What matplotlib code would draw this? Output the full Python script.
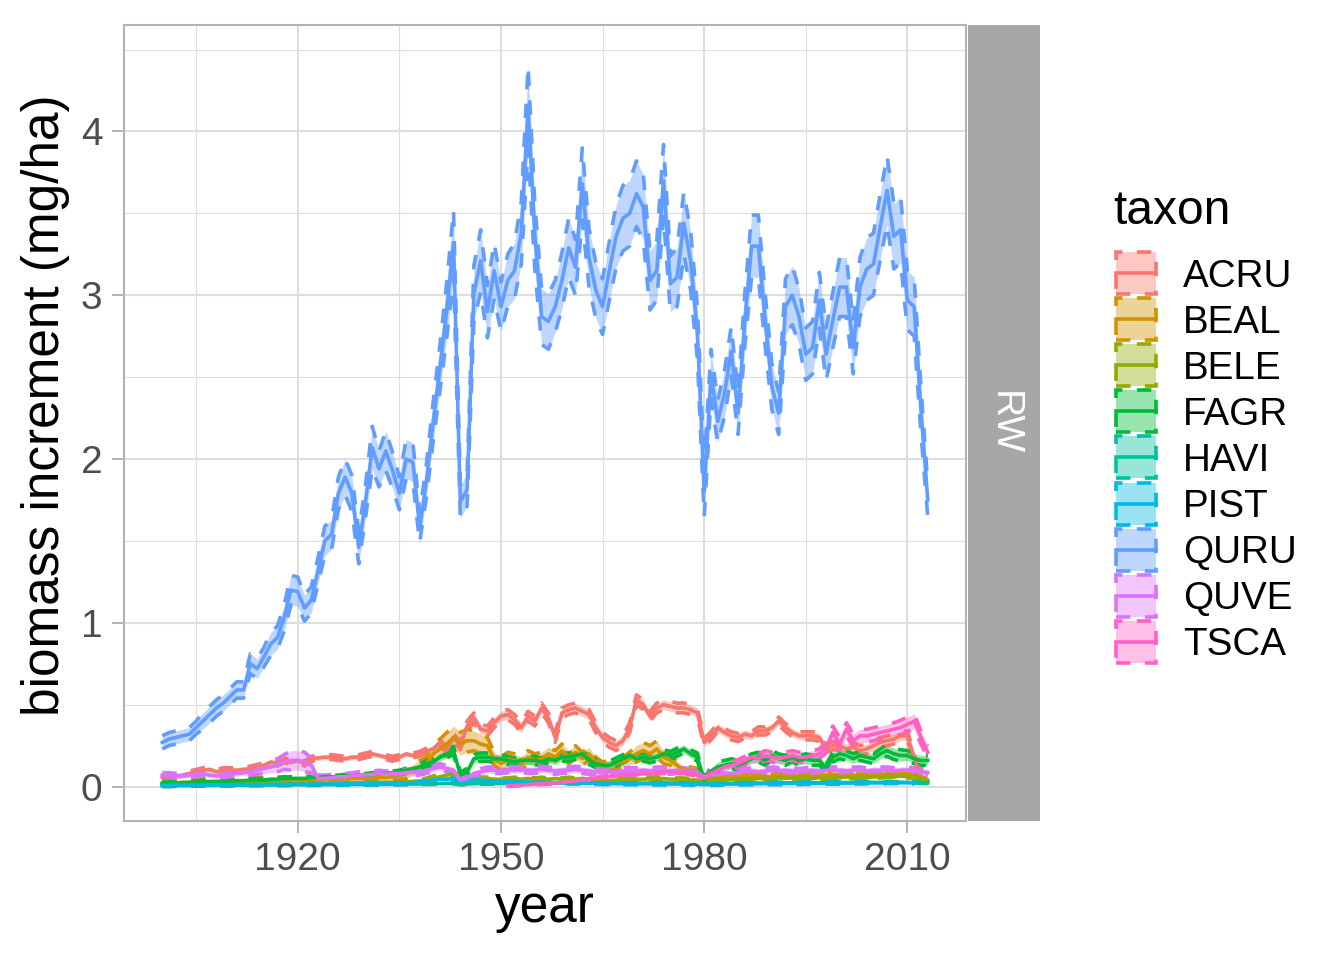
import matplotlib
matplotlib.use("Agg")
import matplotlib.pyplot as plt
from matplotlib.patches import Rectangle
from matplotlib.lines import Line2D
from matplotlib.ticker import FixedLocator
import numpy as np

plt.rcParams['font.family'] = ['Liberation Sans', 'DejaVu Sans']

nan = float('nan')
years = list(range(1900, 2014))
taxa = ["ACRU", "BEAL", "BELE", "FAGR", "HAVI", "PIST", "QURU", "QUVE", "TSCA"]
colors = ["#F8766D", "#D39200", "#93AA00", "#00BA38", "#00C19F",
          "#00B9E3", "#619CFF", "#DB72FB", "#FF61C3"]

ACRU = [0.057,0.060,0.065,0.070,0.080,0.090,0.100,0.105,0.090,0.100,
        0.100,0.100,0.105,0.110,0.120,0.130,0.150,0.140,0.160,0.150,
        0.160,0.140,0.170,0.175,0.180,0.180,0.175,0.170,0.180,0.180,
        0.190,0.200,0.190,0.180,0.170,0.180,0.200,0.190,0.200,0.220,
        0.230,0.270,0.220,0.300,0.250,0.370,0.420,0.350,0.340,0.390,
        0.430,0.440,0.410,0.360,0.430,0.400,0.480,0.420,0.300,0.450,
        0.470,0.480,0.460,0.440,0.360,0.300,0.270,0.250,0.280,0.360,
        0.530,0.500,0.430,0.480,0.500,0.490,0.480,0.480,0.470,0.450,
        0.270,0.310,0.360,0.330,0.310,0.300,0.320,0.310,0.340,0.340,
        0.360,0.400,0.360,0.330,0.310,0.310,0.310,0.300,0.230,0.250,
        0.250,0.230,0.240,0.220,0.230,0.250,0.270,0.280,0.290,0.310,
        0.310,0.180,0.060,0.030]
ACRU_hw = [0.015,0.015,0.015,0.015,0.015,0.015,0.015,0.015,0.015,0.015,
           0.015,0.015,0.015,0.015,0.015,0.015,0.015,0.015,0.015,0.015,
           0.015,0.015,0.015,0.015,0.015,0.015,0.015,0.015,0.015,0.015,
           0.015,0.015,0.015,0.015,0.015,0.015,0.015,0.015,0.015,0.015,
           0.020,0.020,0.020,0.025,0.025,0.030,0.030,0.030,0.030,0.030,
           0.030,0.030,0.030,0.030,0.030,0.030,0.030,0.030,0.030,0.030,
           0.030,0.030,0.030,0.030,0.030,0.030,0.030,0.030,0.030,0.030,
           0.030,0.030,0.030,0.030,0.030,0.030,0.030,0.030,0.030,0.030,
           0.025,0.025,0.025,0.025,0.025,0.025,0.025,0.025,0.025,0.025,
           0.025,0.025,0.025,0.025,0.025,0.025,0.025,0.025,0.025,0.025,
           0.030,0.030,0.030,0.030,0.030,0.030,0.030,0.030,0.030,0.030,
           0.030,0.020,0.015,0.010]

BEAL = [0.020,0.020,0.022,0.022,0.025,0.025,0.027,0.027,0.030,0.030,
        0.030,0.032,0.032,0.035,0.035,0.035,0.038,0.038,0.040,0.040,
        0.040,0.040,0.042,0.042,0.045,0.045,0.045,0.048,0.048,0.050,
        0.050,0.052,0.055,0.055,0.060,0.065,0.080,0.100,0.120,0.140,
        0.200,0.230,0.260,0.300,0.260,0.280,0.280,0.260,0.250,0.170,
        0.140,0.170,0.160,0.140,0.180,0.160,0.170,0.200,0.180,0.220,
        0.180,0.210,0.170,0.200,0.150,0.120,0.130,0.140,0.150,0.170,
        0.200,0.220,0.200,0.230,0.180,0.160,0.130,0.100,0.100,0.090,
        0.050,0.060,0.070,0.065,0.070,0.060,0.070,0.065,0.070,0.060,
        0.060,0.070,0.065,0.060,0.070,0.065,0.060,0.065,0.070,0.060,
        0.060,0.065,0.070,0.060,0.065,0.070,0.075,0.070,0.075,0.080,
        0.080,0.070,0.050,0.030]
BEAL_hw = [0.020,0.020,0.020,0.020,0.020,0.020,0.020,0.020,0.020,0.020,
           0.020,0.020,0.020,0.020,0.020,0.020,0.020,0.020,0.020,0.020,
           0.020,0.020,0.020,0.020,0.020,0.020,0.020,0.020,0.020,0.020,
           0.020,0.020,0.020,0.020,0.020,0.020,0.030,0.035,0.040,0.040,
           0.050,0.060,0.070,0.070,0.070,0.070,0.060,0.060,0.050,0.040,
           0.040,0.040,0.040,0.040,0.040,0.040,0.040,0.040,0.040,0.040,
           0.040,0.040,0.040,0.040,0.030,0.030,0.030,0.030,0.030,0.040,
           0.050,0.050,0.050,0.050,0.040,0.030,0.025,0.020,0.020,0.020,
           0.015,0.015,0.015,0.015,0.015,0.015,0.015,0.015,0.015,0.015,
           0.015,0.015,0.015,0.015,0.015,0.015,0.015,0.015,0.015,0.015,
           0.015,0.015,0.015,0.015,0.015,0.015,0.015,0.015,0.015,0.015,
           0.015,0.015,0.015,0.015]

BELE = [0.010,0.010,0.010,0.012,0.012,0.012,0.013,0.013,0.014,0.014,
        0.015,0.015,0.015,0.016,0.016,0.017,0.017,0.018,0.018,0.019,
        0.019,0.020,0.020,0.020,0.021,0.021,0.022,0.022,0.023,0.023,
        0.024,0.025,0.025,0.026,0.027,0.028,0.030,0.032,0.035,0.040,
        0.050,0.060,0.070,0.080,0.030,0.035,0.045,0.050,0.050,0.045,
        0.045,0.045,0.050,0.045,0.050,0.045,0.050,0.045,0.050,0.045,
        0.050,0.045,0.050,0.045,0.040,0.035,0.035,0.040,0.040,0.045,
        0.045,0.045,0.050,0.045,0.050,0.045,0.045,0.045,0.040,0.040,
        0.025,0.035,0.040,0.040,0.045,0.045,0.050,0.045,0.050,0.050,
        0.050,0.055,0.050,0.055,0.050,0.055,0.050,0.055,0.050,0.055,
        0.055,0.060,0.055,0.060,0.055,0.060,0.060,0.065,0.060,0.065,
        0.060,0.060,0.050,0.040]
BELE_hw = [0.006,0.006,0.006,0.006,0.006,0.006,0.006,0.006,0.006,0.006,
           0.006,0.006,0.006,0.006,0.006,0.006,0.006,0.006,0.006,0.006,
           0.006,0.006,0.006,0.006,0.006,0.006,0.006,0.006,0.006,0.006,
           0.006,0.006,0.006,0.006,0.006,0.006,0.006,0.008,0.010,0.012,
           0.015,0.015,0.015,0.015,0.008,0.008,0.008,0.008,0.008,0.008,
           0.008,0.008,0.008,0.008,0.008,0.008,0.008,0.008,0.008,0.008,
           0.008,0.008,0.008,0.008,0.008,0.008,0.008,0.008,0.008,0.008,
           0.008,0.008,0.008,0.008,0.008,0.008,0.008,0.008,0.008,0.008,
           0.008,0.008,0.008,0.008,0.008,0.008,0.008,0.008,0.008,0.008,
           0.008,0.008,0.008,0.008,0.008,0.008,0.008,0.008,0.008,0.008,
           0.008,0.008,0.008,0.008,0.008,0.008,0.008,0.008,0.008,0.008,
           0.008,0.008,0.008,0.008]

FAGR = [0.020,0.020,0.020,0.025,0.025,0.025,0.030,0.030,0.030,0.030,
        0.035,0.035,0.035,0.040,0.040,0.040,0.045,0.045,0.050,0.050,
        0.050,0.050,0.055,0.055,0.060,0.060,0.060,0.065,0.065,0.070,
        0.070,0.075,0.080,0.080,0.085,0.090,0.100,0.110,0.120,0.140,
        0.150,0.180,0.200,0.220,0.070,0.090,0.170,0.180,0.180,0.170,
        0.170,0.160,0.150,0.160,0.160,0.160,0.150,0.170,0.160,0.180,
        0.180,0.190,0.200,0.160,0.140,0.130,0.130,0.150,0.170,0.190,
        0.170,0.180,0.170,0.180,0.200,0.190,0.210,0.230,0.200,0.180,
        0.040,0.090,0.120,0.130,0.140,0.130,0.150,0.170,0.180,0.160,
        0.190,0.170,0.160,0.180,0.160,0.170,0.160,0.160,0.110,0.180,
        0.200,0.190,0.170,0.190,0.180,0.170,0.200,0.220,0.200,0.190,
        0.190,0.170,0.160,0.160]
FAGR_hw = [0.010,0.010,0.010,0.010,0.010,0.010,0.010,0.010,0.010,0.010,
           0.010,0.010,0.010,0.010,0.010,0.010,0.010,0.010,0.010,0.010,
           0.010,0.010,0.010,0.010,0.010,0.010,0.010,0.010,0.010,0.010,
           0.010,0.010,0.010,0.010,0.010,0.010,0.012,0.014,0.016,0.020,
           0.025,0.025,0.025,0.025,0.020,0.020,0.025,0.025,0.025,0.025,
           0.025,0.025,0.025,0.025,0.025,0.025,0.025,0.025,0.025,0.025,
           0.025,0.025,0.025,0.025,0.025,0.025,0.025,0.025,0.025,0.025,
           0.025,0.025,0.025,0.025,0.025,0.025,0.025,0.025,0.025,0.025,
           0.015,0.025,0.030,0.030,0.030,0.030,0.030,0.030,0.030,0.030,
           0.030,0.030,0.030,0.030,0.030,0.030,0.030,0.030,0.025,0.030,
           0.030,0.030,0.030,0.030,0.030,0.030,0.030,0.035,0.035,0.035,
           0.030,0.030,0.030,0.030]

HAVI = [0.005,0.005,0.006,0.006,0.006,0.007,0.007,0.007,0.008,0.008,
        0.008,0.008,0.009,0.009,0.009,0.010,0.010,0.010,0.010,0.011,
        0.011,0.011,0.011,0.012,0.012,0.012,0.012,0.013,0.013,0.013,
        0.013,0.014,0.014,0.014,0.015,0.015,0.015,0.016,0.016,0.017,
        0.018,0.019,0.020,0.021,0.015,0.016,0.018,0.019,0.019,0.019,
        0.019,0.019,0.020,0.020,0.020,0.020,0.020,0.021,0.021,0.021,
        0.021,0.021,0.022,0.021,0.020,0.019,0.019,0.020,0.020,0.021,
        0.021,0.021,0.022,0.022,0.022,0.022,0.022,0.022,0.021,0.021,
        0.015,0.018,0.019,0.020,0.020,0.021,0.021,0.022,0.022,0.022,
        0.022,0.023,0.023,0.023,0.023,0.024,0.024,0.024,0.024,0.024,
        0.025,0.025,0.025,0.025,0.025,0.026,0.026,0.026,0.026,0.026,
        0.026,0.025,0.024,0.022]
HAVI_hw = [0.004] * 114

PIST = [0.008,0.008,0.009,0.009,0.010,0.010,0.010,0.011,0.011,0.011,
        0.012,0.012,0.012,0.013,0.013,0.013,0.014,0.014,0.014,0.015,
        0.015,0.015,0.016,0.016,0.016,0.017,0.017,0.017,0.018,0.018,
        0.018,0.019,0.019,0.020,0.020,0.020,0.021,0.022,0.030,0.035,
        0.040,0.045,0.045,0.050,0.030,0.035,0.040,0.040,0.035,0.035,
        0.030,0.030,0.030,0.028,0.028,0.026,0.025,0.025,0.024,0.024,
        0.023,0.022,0.022,0.021,0.020,0.019,0.018,0.018,0.018,0.018,
        0.017,0.017,0.017,0.016,0.016,0.016,0.016,0.016,0.015,0.015,
        0.012,0.014,0.015,0.015,0.016,0.016,0.017,0.017,0.017,0.018,
        0.018,0.018,0.019,0.019,0.019,0.020,0.020,0.020,0.021,0.021,
        0.021,0.022,0.022,0.022,0.023,0.023,0.023,0.024,0.024,0.024,
        0.024,0.022,nan,nan]
PIST_hw = [0.006] * 114

QURU = [0.27,0.29,0.30,0.31,0.32,0.36,0.40,0.44,0.48,0.51,
        0.55,0.59,0.59,0.75,0.72,0.79,0.87,0.91,1.03,1.20,
        1.19,1.09,1.14,1.32,1.50,1.54,1.79,1.89,1.79,1.46,
        1.74,2.07,1.94,2.05,1.93,1.79,2.00,1.98,1.58,1.87,
        2.23,2.56,2.91,3.32,1.74,1.81,3.01,3.21,2.90,3.15,
        2.93,3.09,3.15,3.38,4.15,3.36,2.87,2.84,2.93,3.09,
        3.29,3.17,3.68,3.23,3.03,2.93,3.15,3.36,3.47,3.50,
        3.62,3.54,3.09,3.15,3.70,3.07,3.11,3.44,3.21,2.77,
        1.80,2.52,2.23,2.40,2.66,2.28,2.85,3.30,3.30,2.85,
        2.44,2.28,2.93,3.00,2.87,2.64,2.68,2.97,2.64,2.85,
        3.05,3.05,2.68,3.05,3.16,3.19,3.42,3.64,3.36,3.40,
        2.97,2.93,2.30,1.75]
QURU_hw = [0.04,0.04,0.04,0.04,0.04,0.04,0.05,0.05,0.05,0.05,
           0.05,0.05,0.05,0.06,0.06,0.06,0.07,0.07,0.08,0.09,
           0.09,0.08,0.08,0.08,0.09,0.09,0.10,0.11,0.11,0.10,
           0.10,0.13,0.11,0.12,0.11,0.10,0.12,0.12,0.09,0.10,
           0.12,0.14,0.17,0.20,0.10,0.10,0.17,0.19,0.16,0.17,
           0.15,0.16,0.17,0.19,0.25,0.20,0.17,0.17,0.16,0.17,
           0.18,0.17,0.22,0.18,0.17,0.17,0.18,0.19,0.20,0.20,
           0.20,0.20,0.18,0.18,0.22,0.17,0.18,0.19,0.18,0.16,
           0.15,0.15,0.13,0.14,0.15,0.13,0.16,0.19,0.19,0.16,
           0.14,0.13,0.17,0.18,0.17,0.16,0.16,0.17,0.16,0.17,
           0.18,0.18,0.16,0.18,0.19,0.19,0.20,0.21,0.20,0.20,
           0.18,0.18,0.14,0.10]

QUVE = [0.070,0.070,0.065,0.065,0.070,0.075,0.080,0.070,0.065,0.070,
        0.075,0.080,0.085,0.090,0.100,0.110,0.120,0.130,0.150,0.160,
        0.160,0.150,0.130,0.050,0.050,0.055,0.060,0.060,0.065,0.070,
        0.070,0.075,0.080,0.075,0.080,0.080,0.085,0.090,0.090,0.100,
        0.110,0.120,0.110,0.100,0.040,0.050,0.080,0.090,0.100,0.100,
        0.100,0.105,0.100,0.105,0.100,0.100,0.105,0.100,0.095,0.100,
        0.100,0.105,0.100,0.095,0.090,0.085,0.090,0.090,0.095,0.095,
        0.095,0.100,0.095,0.100,0.100,0.095,0.100,0.095,0.090,0.085,
        0.060,0.070,0.075,0.080,0.080,0.085,0.090,0.095,0.090,0.095,
        0.100,0.095,0.100,0.095,0.090,0.095,0.100,0.095,0.100,0.100,
        0.100,0.095,0.100,0.100,0.095,0.100,0.100,0.100,0.095,0.100,
        0.100,0.095,0.090,0.085]
QUVE_hw = [0.015,0.015,0.015,0.015,0.015,0.015,0.015,0.015,0.015,0.015,
           0.015,0.015,0.015,0.020,0.025,0.030,0.035,0.040,0.045,0.060,
           0.060,0.060,0.045,0.020,0.020,0.020,0.020,0.020,0.020,0.020,
           0.020,0.020,0.020,0.020,0.020,0.020,0.020,0.020,0.020,0.020,
           0.020,0.020,0.020,0.020,0.015,0.015,0.020,0.020,0.020,0.020,
           0.020,0.020,0.020,0.020,0.020,0.020,0.020,0.020,0.020,0.020,
           0.020,0.020,0.020,0.020,0.020,0.020,0.020,0.020,0.020,0.020,
           0.020,0.020,0.020,0.020,0.020,0.020,0.020,0.020,0.020,0.020,
           0.015,0.020,0.020,0.020,0.020,0.020,0.020,0.020,0.020,0.020,
           0.020,0.020,0.020,0.020,0.020,0.020,0.020,0.020,0.020,0.020,
           0.020,0.020,0.020,0.020,0.020,0.020,0.020,0.020,0.020,0.020,
           0.020,0.020,0.020,0.020]

TSCA = [nan,nan,nan,nan,nan,nan,nan,nan,nan,nan,
        nan,nan,nan,nan,nan,nan,nan,nan,nan,nan,
        nan,nan,nan,nan,nan,nan,nan,nan,nan,nan,
        nan,nan,nan,nan,nan,nan,nan,nan,nan,nan,
        nan,nan,nan,nan,nan,nan,nan,nan,nan,nan,
        nan,0.005,0.007,0.010,0.012,0.015,0.017,0.020,0.022,0.025,
        0.030,0.035,0.040,0.045,0.050,0.055,0.060,0.065,0.070,0.070,
        0.075,0.080,0.080,0.085,0.090,0.090,0.085,0.090,0.080,0.070,
        0.050,0.080,0.100,0.120,0.130,0.140,0.160,0.180,0.170,0.190,
        0.180,0.170,0.180,0.190,0.180,0.180,0.190,0.200,0.240,0.330,
        0.260,0.350,0.280,0.310,0.310,0.320,0.330,0.340,0.350,0.360,
        0.380,0.400,0.300,0.210]
TSCA_hw = [0.000,0.000,0.000,0.000,0.000,0.000,0.000,0.000,0.000,0.000,
           0.000,0.000,0.000,0.000,0.000,0.000,0.000,0.000,0.000,0.000,
           0.000,0.000,0.000,0.000,0.000,0.000,0.000,0.000,0.000,0.000,
           0.000,0.000,0.000,0.000,0.000,0.000,0.000,0.000,0.000,0.000,
           0.000,0.000,0.000,0.000,0.000,0.000,0.000,0.000,0.000,0.000,
           0.000,0.004,0.004,0.004,0.004,0.004,0.005,0.005,0.005,0.005,
           0.006,0.006,0.006,0.007,0.007,0.008,0.008,0.009,0.009,0.010,
           0.010,0.010,0.010,0.010,0.010,0.010,0.010,0.010,0.010,0.010,
           0.010,0.015,0.020,0.020,0.020,0.025,0.025,0.030,0.030,0.030,
           0.030,0.030,0.030,0.030,0.030,0.030,0.030,0.030,0.035,0.040,
           0.040,0.040,0.040,0.040,0.040,0.040,0.040,0.040,0.040,0.045,
           0.045,0.045,0.040,0.040]

means = [ACRU, BEAL, BELE, FAGR, HAVI, PIST, QURU, QUVE, TSCA]
hws = [ACRU_hw, BEAL_hw, BELE_hw, FAGR_hw, HAVI_hw, PIST_hw, QURU_hw, QUVE_hw, TSCA_hw]

x_major = [1920, 1950, 1980, 2010]
x_minor = [1905, 1935, 1965, 1995]
y_major = [0, 1, 2, 3, 4]
y_minor = [0.5, 1.5, 2.5, 3.5, 4.5]

W, H = 1344, 960
fig = plt.figure(figsize=(W / 100, H / 100), dpi=100)

def fx(px):
    return px / W

def fy(py):
    return 1 - py / H

ax = fig.add_axes([fx(124), fy(821), fx(966) - fx(124), fy(25) - fy(821)])
ax.set_xlim(1894.35, 2018.65)
ax.set_ylim(-0.21, 4.65)

yrs = np.array(years, dtype=float)
LW = 2.6
DASH = (0, (4, 4))
for name, col, m, h in zip(taxa, colors, means, hws):
    m = np.array(m, dtype=float)
    h = np.array(h, dtype=float)
    lo = m - h
    hi = m + h
    ok = ~np.isnan(m)
    ax.fill_between(yrs[ok], lo[ok], hi[ok], color=col, alpha=0.4, lw=0, zorder=2)
    ax.plot(yrs[ok], lo[ok], color=col, lw=LW, ls=DASH, zorder=3)
    ax.plot(yrs[ok], hi[ok], color=col, lw=LW, ls=DASH, zorder=3)
for name, col, m in zip(taxa, colors, means):
    m = np.array(m, dtype=float)
    ok = ~np.isnan(m)
    ax.plot(yrs[ok], m[ok], color=col, lw=LW, zorder=4)

ax.xaxis.set_major_locator(FixedLocator(x_major))
ax.xaxis.set_minor_locator(FixedLocator(x_minor))
ax.yaxis.set_major_locator(FixedLocator(y_major))
ax.yaxis.set_minor_locator(FixedLocator(y_minor))
ax.set_xticklabels([str(v) for v in x_major])
ax.set_yticklabels([str(v) for v in y_major])
ax.grid(which='major', color='#DEDEDE', lw=1.5, zorder=0)
ax.grid(which='minor', color='#DEDEDE', lw=0.8, zorder=0)
ax.set_axisbelow(True)
ax.tick_params(which='major', length=8.6, width=1.4, color='#B3B3B3',
               labelsize=28, labelcolor='#4D4D4D', pad=6.8)
ax.tick_params(which='minor', length=0)
for s in ax.spines.values():
    s.set_color('#B3B3B3')
    s.set_linewidth(1.5)

# facet strip
sax = fig.add_axes([fx(968), fy(821), fx(1040) - fx(968), fy(25) - fy(821)])
sax.set_facecolor('#A7A7A7')
sax.set_xticks([])
sax.set_yticks([])
for s in sax.spines.values():
    s.set_visible(False)
sax.text(0.5, 0.5, "RW", rotation=-90, color='white', fontsize=28,
         ha='center', va='center', transform=sax.transAxes)

# axis titles
fig.text(fx(545), fy(922), "year", fontsize=37, ha='center', va='baseline')
fig.text(fx(46), fy(405), "biomass increment (mg/ha)", fontsize=37,
         rotation=90, ha='center', va='center')

# legend
fig.text(fx(1113), fy(224), "taxon", fontsize=34.5, ha='left', va='baseline')
for i, (name, col) in enumerate(zip(taxa, colors)):
    cy = 273 + i * 46.1
    rgba = matplotlib.colors.to_rgba(col, 0.4)
    rect = Rectangle((fx(1116), fy(cy + 21)), fx(1156) - fx(1116), 42 / H,
                     facecolor=rgba, edgecolor=col, lw=LW, ls=DASH,
                     transform=fig.transFigure)
    fig.add_artist(rect)
    fig.add_artist(Line2D([fx(1116), fx(1156)], [fy(cy), fy(cy)], color=col,
                          lw=LW, transform=fig.transFigure))
    fig.text(fx(1183), fy(cy + 13.6), name, fontsize=27.8, ha='left', va='baseline')

fig.savefig("out.png", dpi=100)
